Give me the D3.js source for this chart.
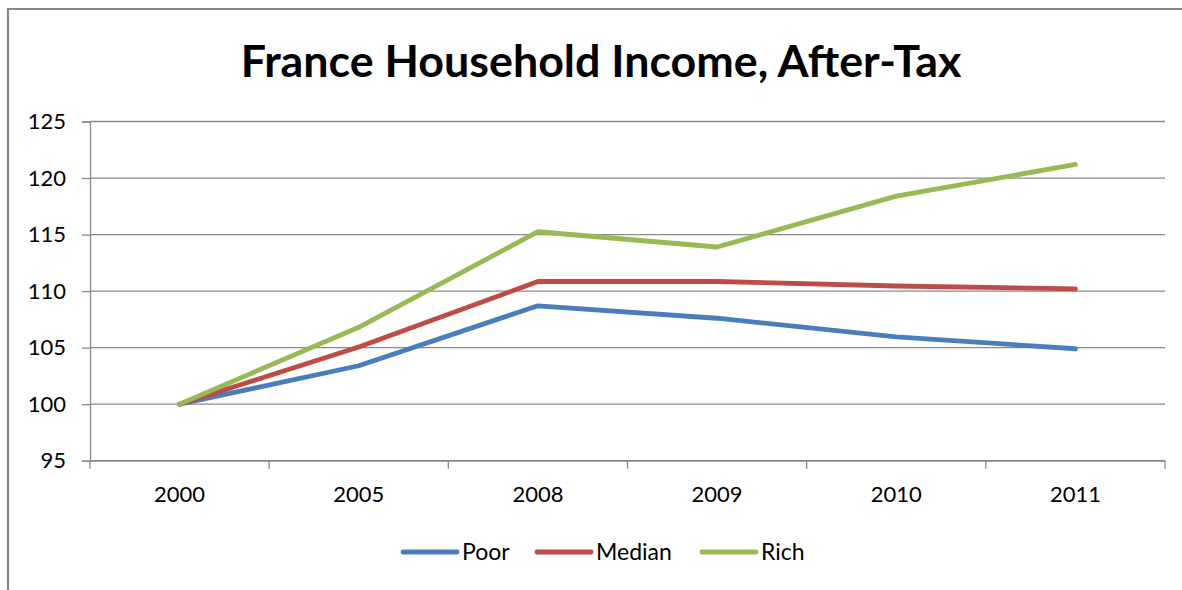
<!DOCTYPE html>
<html>
<head>
<meta charset="utf-8">
<script src="https://cdn.jsdelivr.net/npm/d3@7"></script>
<style>
  html, body { margin: 0; padding: 0; background: #fff; }
  svg { display: block; }
</style>
</head>
<body>
<svg id="chart" width="1182" height="590"></svg>
<script>
const title = "France Household Income, After-Tax";
const categories = ["2000", "2005", "2008", "2009", "2010", "2011"];
const poor   = [100, 103.4, 108.7, 107.6, 105.95, 104.9];
const median = [100, 105.05, 110.85, 110.85, 110.45, 110.2];
const rich   = [100, 106.8, 115.25, 113.9, 118.4, 121.2];
const seriesNames = ["Poor", "Median", "Rich"];
const yTicks = [95, 100, 105, 110, 115, 120, 125];

const seriesList = [
  { name: seriesNames[0], values: poor,   color: "#4A7EBB" },
  { name: seriesNames[1], values: median, color: "#BE4B48" },
  { name: seriesNames[2], values: rich,   color: "#98B954" }
];

const svg = d3.select("#chart");
const W = 1182, H = 590;
const plot = { left: 90, right: 1165, top: 121.5, bottom: 460.7 };
const font = "Lato, 'Open Sans', sans-serif";
const gridColor = "#8a8a8a";

// frame
svg.append("path")
  .attr("d", `M8,${H} L8,9 L${W},9`)
  .attr("fill", "none").attr("stroke", "#878787").attr("stroke-width", 2.2);

// title (fit width)
const t = svg.append("text")
  .attr("x", 601).attr("y", 77)
  .attr("text-anchor", "middle")
  .attr("font-family", font).attr("font-weight", 700)
  .attr("font-size", 40).attr("fill", "#000")
  .text(title);
const tw = t.node().getComputedTextLength();
t.attr("font-size", 40 * 721 / tw);

const x = d3.scaleBand().domain(categories).range([plot.left, plot.right]);
const y = d3.scaleLinear().domain([95, 125]).range([plot.bottom, plot.top]);

// gridlines
svg.append("g").selectAll("line").data(yTicks).join("line")
  .attr("x1", plot.left).attr("x2", plot.right)
  .attr("y1", d => y(d)).attr("y2", d => y(d))
  .attr("stroke", gridColor).attr("stroke-width", 1.3);

// y axis
const yAxis = svg.append("g").attr("transform", `translate(${plot.left},0)`)
  .call(d3.axisLeft(y).tickValues(yTicks).tickSize(8).tickPadding(16).tickFormat(d3.format("d")));
yAxis.select(".domain").attr("stroke", gridColor).attr("stroke-width", 1.3);
yAxis.selectAll(".tick line").attr("stroke", gridColor).attr("stroke-width", 1.3);
yAxis.selectAll("text").attr("font-family", font).attr("font-size", 22).attr("fill", "#000");

// x axis
const xAxis = svg.append("g").attr("transform", `translate(0,${plot.bottom})`)
  .call(d3.axisBottom(x).tickSize(0).tickPadding(26));
xAxis.select(".domain").attr("stroke", gridColor).attr("stroke-width", 1.3);
xAxis.selectAll("text").attr("font-family", font).attr("font-size", 22).attr("fill", "#000");
// category boundary ticks
const bounds = categories.map(c => x(c)).concat([plot.right]);
svg.append("g").selectAll("line").data(bounds).join("line")
  .attr("x1", d => d).attr("x2", d => d)
  .attr("y1", plot.bottom).attr("y2", plot.bottom + 8)
  .attr("stroke", gridColor).attr("stroke-width", 1.3);

// lines
const line = d3.line()
  .x((d, i) => x(categories[i]) + x.bandwidth() / 2)
  .y(d => y(d));
svg.append("g").selectAll("path").data(seriesList).join("path")
  .attr("d", d => line(d.values))
  .attr("fill", "none")
  .attr("stroke", d => d.color)
  .attr("stroke-width", 4.8)
  .attr("stroke-linejoin", "round")
  .attr("stroke-linecap", "round");

// legend
const legendX = [403, 537, 702];
const lg = svg.append("g").selectAll("g").data(seriesList).join("g")
  .attr("transform", (d, i) => `translate(${legendX[i]},552)`);
lg.append("line").attr("x1", 0).attr("x2", 54).attr("y1", 0).attr("y2", 0)
  .attr("stroke", d => d.color).attr("stroke-width", 4.8).attr("stroke-linecap", "round");
lg.append("text").attr("x", 59).attr("y", 8)
  .attr("font-family", font).attr("font-size", 23).attr("fill", "#000")
  .text(d => d.name);
</script>
</body>
</html>
